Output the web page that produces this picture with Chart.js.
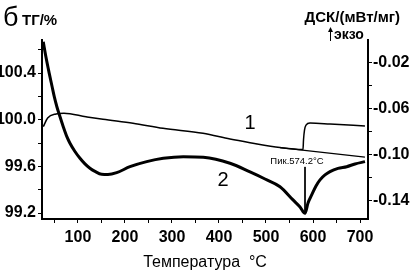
<!DOCTYPE html>
<html><head><meta charset="utf-8">
<script src="https://cdn.jsdelivr.net/npm/chart.js@4.4.1/dist/chart.umd.min.js"></script>
<style>html,body{margin:0;padding:0;background:#fff}</style>
</head><body>
<canvas id="c" width="412" height="276"></canvas>
<script>
const FONT = '"Liberation Sans Narrow","Liberation Sans",Arial,sans-serif';

// Curve 1 – TG (%)
const tgTemp  = [26.2, 35.5, 53.2, 70.2, 117, 153.2, 217, 280.9, 366, 423.4, 466, 529.8, 578.7, 579.8, 581.9, 585.1, 593.6, 636.2, 710.5];
const tgValue = [99.94, 100.014, 100.049, 100.055, 100.025, 100.003, 99.969, 99.926, 99.883, 99.834, 99.803, 99.761, 99.744, 99.826, 99.911, 99.954, 99.971, 99.963, 99.946];
// thin baseline continuing under the step
const baseTemp  = [529.8, 710.5];
const baseValue = [99.761, 99.680];
// Curve 2 – DSC (mW/mg)
const dscTemp  = [26.2, 31.9, 38.9, 44.7, 49.6, 55.3, 60.6, 68.7, 76.6, 83, 93.6, 104.3, 114.9, 125.5, 136.2, 150.4, 163.8, 182.4, 210.6, 246.2, 281.5, 324.1, 366.6, 423.4, 466, 497.9, 529.8, 557.5, 572.4, 583, 589.4, 597.2, 606.4, 614.9, 625.5, 636.2, 653.2, 671.7, 689.4, 710.6];
const dscValue = [-0.0015, -0.0148, -0.0290, -0.0400, -0.0493, -0.0583, -0.0652, -0.0754, -0.0843, -0.0898, -0.0970, -0.1029, -0.1078, -0.1116, -0.1143, -0.1168, -0.1170, -0.1154, -0.1102, -0.1058, -0.1029, -0.1015, -0.1020, -0.1072, -0.1148, -0.1209, -0.1276, -0.1391, -0.1452, -0.1507, -0.1417, -0.1348, -0.1270, -0.1217, -0.1174, -0.1145, -0.1117, -0.1102, -0.1078, -0.1058];
// peak marker
const peakTemp  = [583, 583];
const peakValue = [-0.1104, -0.1507];

// ticks
const xTicks   = [50, 100, 150, 200, 250, 300, 350, 400, 450, 500, 550, 600, 650, 700];
const xLabels  = [100, 200, 300, 400, 500, 600, 700];
const tgTicks  = [99.2, 99.4, 99.6, 99.8, 100.0, 100.2, 100.4, 100.6];
const tgLabels = [99.2, 99.6, 100.0, 100.4];
const dscTicks  = [-0.14, -0.12, -0.10, -0.08, -0.06, -0.04, -0.02];
const dscLabels = [-0.14, -0.10, -0.06, -0.02];

const pts = (xs, ys) => xs.map((x, i) => ({x, y: ys[i]}));
const near = (arr, v) => arr.some(a => Math.abs(a - v) < 1e-6);
const tickFont = {family: FONT, size: 16, weight: 'bold'};
const gridOpt = {drawOnChartArea: false, drawTicks: true, tickLength: 4, tickColor: '#000', tickWidth: 1};
const borderOpt = {display: true, color: '#000', width: 2};

const annot = {
  id: 'annot',
  afterDraw(chart) {
    const ctx = chart.ctx, xs = chart.scales.x, yl = chart.scales.y, yr = chart.scales.y2;
    ctx.save();
    ctx.fillStyle = '#000'; ctx.strokeStyle = '#000';
    ctx.textBaseline = 'alphabetic'; ctx.textAlign = 'left';
    ctx.font = '27px "Liberation Sans"';
    ctx.fillText('б', 3, 26);
    ctx.font = 'bold 15px ' + FONT;
    ctx.fillText('ТГ/%', 22, 25);
    ctx.textAlign = 'right';
    ctx.font = 'bold 15px ' + FONT;
    ctx.fillText('ДСК/(мВт/мг)', 400, 22);
    ctx.textAlign = 'left';
    ctx.font = 'bold 14px ' + FONT;
    ctx.fillText('экзо', 334, 39);
    // arrow
    ctx.lineWidth = 1;
    ctx.beginPath(); ctx.moveTo(330.5, 41); ctx.lineTo(330.5, 29); ctx.stroke();
    ctx.beginPath(); ctx.moveTo(328, 32); ctx.lineTo(330.5, 27); ctx.lineTo(333, 32); ctx.closePath(); ctx.fill();
    // curve labels
    ctx.textAlign = 'center'; ctx.textBaseline = 'middle';
    ctx.font = '20px "Liberation Sans"';
    ctx.fillText('1', xs.getPixelForValue(466), yl.getPixelForValue(99.967));
    ctx.fillText('2', xs.getPixelForValue(408.5), yr.getPixelForValue(-0.1222));
    ctx.font = '9.5px ' + FONT;
    ctx.fillText('Пик.574.2°C', xs.getPixelForValue(566), yr.getPixelForValue(-0.1052));
    ctx.restore();
  }
};

new Chart(document.getElementById('c'), {
  type: 'line',
  data: {
    datasets: [
      {data: pts(tgTemp, tgValue), yAxisID: 'y', borderColor: '#000', borderWidth: 1.5, pointRadius: 0, cubicInterpolationMode: 'monotone', fill: false},
      {data: pts(baseTemp, baseValue), yAxisID: 'y', borderColor: '#000', borderWidth: 1.2, pointRadius: 0, fill: false},
      {data: pts(dscTemp, dscValue), yAxisID: 'y2', borderColor: '#000', borderWidth: 3, pointRadius: 0, cubicInterpolationMode: 'monotone', fill: false},
      {data: pts(peakTemp, peakValue), yAxisID: 'y2', borderColor: '#000', borderWidth: 1, pointRadius: 0, fill: false}
    ]
  },
  options: {
    responsive: false, devicePixelRatio: 1, animation: false,
    layout: {padding: {top: 40, left: 0, right: 0, bottom: 0}},
    plugins: {legend: {display: false}, tooltip: {enabled: false}},
    scales: {
      x: {
        type: 'linear', position: 'bottom', min: 23.5, max: 717,
        afterFit(s) { s.height = 57; },
        afterBuildTicks(s) { s.ticks = xTicks.map(v => ({value: v})); },
        ticks: {autoSkip: false, maxRotation: 0, padding: 5, color: '#000', font: tickFont,
          callback: v => near(xLabels, v) ? String(v) : ''},
        grid: gridOpt, border: borderOpt,
        title: {display: true, text: 'Температура  °C', color: '#000', font: {family: FONT, size: 16}, padding: {top: 0, bottom: 4}}
      },
      y: {
        type: 'linear', position: 'left', min: 99.149, max: 100.683,
        afterFit(s) { s.width = 42; },
        afterBuildTicks(s) { s.ticks = tgTicks.map(v => ({value: v})); },
        ticks: {autoSkip: false, padding: 2, color: '#000', font: tickFont,
          callback: v => near(tgLabels, v) ? v.toFixed(1) : ''},
        grid: gridOpt, border: borderOpt
      },
      y2: {
        type: 'linear', position: 'right', min: -0.1557, max: 0.0,
        afterFit(s) { s.width = 44; },
        afterBuildTicks(s) { s.ticks = dscTicks.map(v => ({value: v})); },
        ticks: {autoSkip: false, padding: 1, color: '#000', font: tickFont,
          callback: v => near(dscLabels, v) ? v.toFixed(2) : ''},
        grid: gridOpt, border: borderOpt
      }
    }
  },
  plugins: [annot]
});
</script>
</body></html>
